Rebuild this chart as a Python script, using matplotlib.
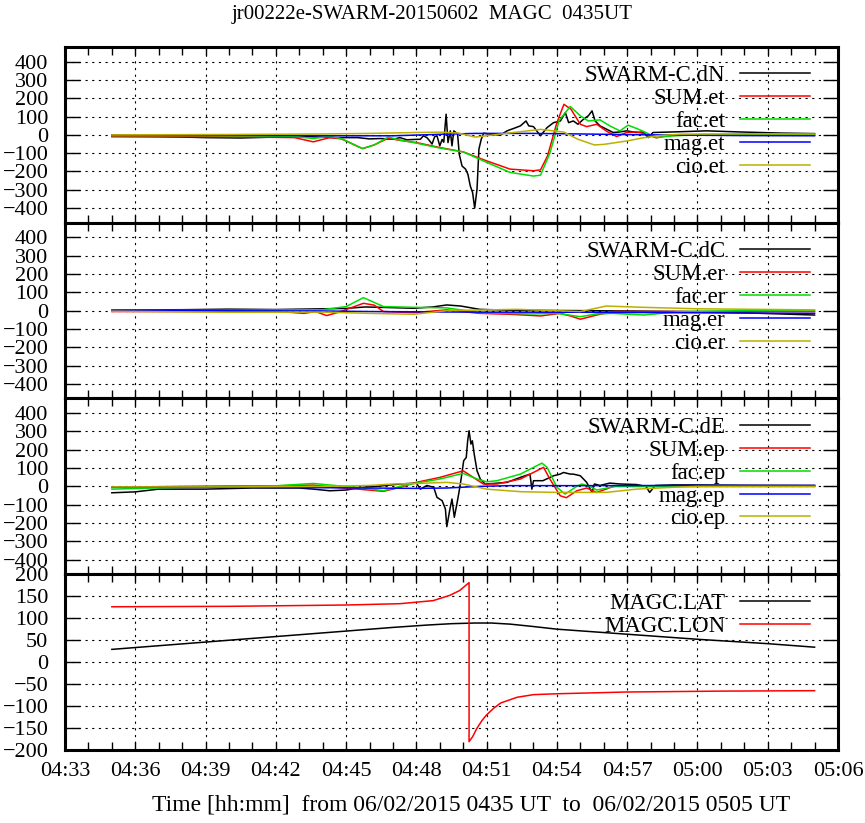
import matplotlib
matplotlib.use("Agg")
import matplotlib.pyplot as plt
from matplotlib.ticker import MultipleLocator, FuncFormatter

plt.rcParams['font.family'] = ['Liberation Serif', 'DejaVu Serif']

# ---------------- data (time in minutes after 04:00) ----------------
# Panel 1
dN_t = [35, 36, 37, 38, 39, 40.5, 42, 43.5, 44.5, 45.5, 46.0, 46.46, 47.0, 47.3, 47.6, 47.9, 48.17,
        48.3, 48.45, 48.55, 48.67, 48.78, 48.88, 49.0, 49.1, 49.17, 49.27, 49.35, 49.45, 49.52, 49.6,
        49.76, 49.83, 49.95, 50.1, 50.2, 50.3, 50.4, 50.49, 50.59, 50.67, 50.77, 50.87, 51.16, 51.58,
        51.87, 52.15, 52.44, 52.68, 52.8, 53.0, 53.3, 53.58, 53.86, 54.15, 54.36, 54.5, 54.7, 54.9,
        55.13, 55.34, 55.5, 55.63, 55.84, 56.12, 56.4, 56.69, 56.97, 57.4, 57.68, 57.9, 58.1, 58.95,
        60.4, 61.8, 63.5, 65]
dN_v = [-8, -9, -10, -12, -15, -17, -12, -10, -15, -15, -22, -20, -24, -15, -27, -25, -24,
        -5, -15, -30, -50, -10, -5, -60, -25, -40, 113, -42, 22, -60, 22,
        5, -105, -170, -187, -215, -278, -315, -400, -296, -78, -24, 9, 4, -2,
        22, 35, 49, 76, 49, 45, -5, 40, 67, 76, 122, 67, 76, 58,
        85, 104, 131, 76, 49, 31, 13, 16, 22, 13, 16, -15, 13, 16,
        22, 16, 10, 7]

SUMet_t = [35, 38, 41, 42.8, 43.6, 44.3, 44.8, 45.2, 45.7, 46.2, 46.8, 47.3, 48, 49, 50, 51, 52, 53,
           53.3, 53.6, 54.0, 54.3, 54.6, 55.0, 55.27, 55.7, 56.12, 56.55, 56.97, 57.4, 57.8, 58.24,
           58.67, 59.5, 62, 65]
SUMet_v = [-10, -10, -12, -15, -38, -15, -22, -45, -75, -55, -18, -30, -42, -69, -93, -142, -187, -196,
           -191, -115, 67, 167, 140, 58, 45, 58, 20, -9, 13, 16, 4, -16,
           -5, 0, 0, 0]

FACet_t = [35, 38, 41, 42.8, 43.6, 44.3, 44.8, 45.2, 45.7, 46.2, 46.8, 47.3, 48, 49, 50, 51, 52, 53,
           53.3, 53.7, 54.1, 54.57, 55.0, 55.34, 55.84, 56.26, 56.69, 57.04, 57.4, 57.8, 58.24, 58.95,
           60, 65]
FACet_v = [-4, -4, -5, -8, -20, -8, -20, -45, -75, -55, -12, -28, -45, -72, -93, -150, -205, -225,
           -220, -100, 80, 155, 104, 76, 82, 49, 22, 53, 35, 13, -15, -5,
           0, 0]

MAGet_t = [35, 40, 45, 47, 49, 50.5, 53, 55, 58, 62, 65]
MAGet_v = [0, -2, -5, -5, 3, 8, 8, 5, 0, -4, -5]

CIOet_t = [35, 40, 44, 46, 48, 49, 49.8, 50.5, 51.0, 51.8, 52.5, 53.3, 54.3, 54.9, 55.6, 56.0, 57.0,
           57.6, 58.3, 59.3, 62, 65]
CIOet_v = [0, 2, 5, 8, 13, 15, 10, -12, -5, 8, 18, 30, 15, -24, -55, -52, -33,
           -18, -5, 4, 6, 5]

# Panel 2
dC_t = [35, 38, 40, 42, 44, 45, 45.8, 46.46, 47.9, 48.7, 49.3, 49.9, 50.7, 52, 55, 57, 59.3, 62, 65]
dC_v = [3, 5, 8, 6, 10, 12, 20, 18, 13, 20, 31, 25, 7, 2, 0, -2, -5, -12, -24]

SUMer_t = [35, 38, 42, 42.7, 43.2, 43.7, 44.17, 44.7, 45.2, 45.74, 46.2, 46.6, 47.9, 49.3, 50.7, 52,
           53.3, 54.15, 54.6, 55.0, 55.7, 56.4, 58, 65]
SUMer_v = [-5, -5, -5, -10, -15, -5, -27, -8, 15, 40, 30, -5, -11, 4, -15, -20,
           -29, -15, -30, -47, -24, -5, -5, -5]

FACer_t = [35, 40, 44, 45, 45.74, 46.6, 47.9, 49.3, 50.7, 52.9, 54.0, 55.0, 55.7, 56.4, 57.7, 59.3, 62, 65]
FACer_v = [0, 2, 5, 22, 71, 22, 18, 15, -11, -18, -15, -33, -18, -15, -24, -5, 0, 0]

MAGer_t = [35, 44, 46, 50, 55, 60, 65]
MAGer_v = [0, -2, -5, -8, -9, -12, -15]

CIOer_t = [35, 40, 44, 46, 47.9, 49.3, 52.3, 55.0, 56.1, 57.7, 60, 65]
CIOer_v = [-3, -9, -8, -15, -20, 0, 7, -5, 25, 18, 10, 4]

# Panel 3
dE_t = [35, 36, 37, 39, 41, 43, 43.6, 44.3, 45, 45.7, 46.46, 47.3, 48, 48.17, 48.45, 48.74, 48.88,
        49.1, 49.24, 49.3, 49.42, 49.52, 49.62, 49.73, 49.83, 49.92, 50.02, 50.13, 50.19, 50.25,
        50.33, 50.39, 50.47, 50.59, 50.73, 50.93, 51.3, 51.87, 52.44, 52.85, 52.93, 53.0, 53.4,
        53.86, 54.14, 54.28, 54.57, 54.7, 55.0, 55.27, 55.5, 55.6, 55.84, 56.26, 56.7, 57.4, 57.8,
        57.96, 58.2, 58.95, 60, 62, 65]
dE_v = [-35, -30, -15, -15, -9, -9, -15, -24, -20, -5, 2, 13, 18, -15, 5, -5, -60,
        -78, -124, -220, -133, -69, -169, -96, -24, 49, 140, 158, 249, 304,
        231, 249, 176, 85, 40, 13, 16, 22, 49, 67, -15, 31, 31,
        58, 67, 76, 67, 67, 58, 22, -33, 13, 5, 18, 13, 10, 0,
        -33, 5, 8, 8, 6, 5]

SUMep_t = [35, 38, 40, 42, 43.6, 44.5, 45.5, 46.6, 47.3, 48, 49.0, 50.0, 50.43, 50.86, 51.44, 52.44,
           53.43, 53.7, 54.14, 54.4, 54.85, 55.27, 55.7, 56.1, 56.4, 60, 65]
SUMep_v = [-5, 0, 2, 3, 7, -5, -15, -27, -5, 22, 49, 85, 49, 13, 13, 40,
           104, 40, -51, -62, -24, -9, -33, -15, 0, 0, 0]

FACep_t = [35, 38, 40, 42, 43.6, 44.5, 45.5, 46.6, 47.3, 48, 49.0, 50.0, 50.6, 51.0, 51.44, 52.44,
           53.36, 53.58, 54.0, 54.35, 54.85, 55.06, 55.4, 55.7, 56.1, 56.5, 65]
FACep_v = [-15, -5, 0, 3, 16, 5, -5, -24, 0, 18, 40, 71, 40, 25, 31, 67,
           127, 104, -5, -42, 0, 13, 0, -20, -10, 0, 0]

MAGep_t = [35, 40, 45, 48, 49.3, 50.7, 52, 55, 60, 65]
MAGep_v = [-5, -5, -8, -11, -9, 0, 4, 4, 5, 5]

CIOep_t = [35, 40, 44, 46, 47, 48, 49.3, 50.0, 51.0, 52.44, 54.0, 55.0, 56.1, 57.4, 58.95, 60, 65]
CIOep_v = [-3, -3, 0, 5, 13, 16, 22, 13, -15, -29, -33, -33, -33, -15, -5, 0, 0]

# Panel 4
LAT_t = [35, 38, 41, 44, 47, 48.5, 49.5, 50.5, 51.2, 52, 53, 54, 57, 60, 63, 65]
LAT_v = [29, 41.5, 54, 66.5, 79, 84.5, 87.5, 89, 89, 86.5, 81, 75, 63.5, 52, 42, 34]

LON_t = [35, 40, 45, 47.3, 48.72, 49.43, 49.85, 50.25, 50.25, 50.4, 50.58, 50.8, 51.0, 51.3, 51.6,
         52.3, 53.0, 54.0, 57.0, 61, 65]
LON_v = [126, 127, 130, 133, 140, 152, 163, 181, -181, -170, -151, -133, -120, -105, -93,
         -80, -74, -72, -68, -66, -65]

labels1 = ['SWARM-C.dN', 'SUM.et', 'fac.et', 'mag.et', 'cio.et']
labels2 = ['SWARM-C.dC', 'SUM.er', 'fac.er', 'mag.er', 'cio.er']
labels3 = ['SWARM-C.dE', 'SUM.ep', 'fac.ep', 'mag.ep', 'cio.ep']
labels4 = ['MAGC.LAT', 'MAGC.LON']

title = 'jr00222e-SWARM-20150602  MAGC  0435UT'
xlabel = 'Time [hh:mm]  from 06/02/2015 0435 UT  to  06/02/2015 0505 UT'

colors = ['black', '#ff0000', '#00dd00', '#0000ff', '#bbb000']

# ---------------- figure ----------------
fig = plt.figure(figsize=(8.65, 8.23), dpi=100)
L, R, T, B = 65 / 865, 838 / 865, 1 - 47 / 823, 1 - 750 / 823
gs = fig.add_gridspec(4, 1, left=L, right=R, top=T, bottom=B, hspace=0)
axes = [fig.add_subplot(gs[i]) for i in range(4)]

panels = [
    ([(dN_t, dN_v), (SUMet_t, SUMet_v), (FACet_t, FACet_v), (MAGet_t, MAGet_v), (CIOet_t, CIOet_v)], labels1),
    ([(dC_t, dC_v), (SUMer_t, SUMer_v), (FACer_t, FACer_v), (MAGer_t, MAGer_v), (CIOer_t, CIOer_v)], labels2),
    ([(dE_t, dE_v), (SUMep_t, SUMep_v), (FACep_t, FACep_v), (MAGep_t, MAGep_v), (CIOep_t, CIOep_v)], labels3),
    ([(LAT_t, LAT_v), (LON_t, LON_v)], labels4),
]

fs = 16
lfs = 16.5


def fmt_time(x, pos):
    h = int(x // 60) + 4
    m = int(round(x % 60))
    return f"{h:02d}:{m:02d}"


for i, (ax, (series, labels)) in enumerate(zip(axes, panels)):
    for (t, v), lab, c in zip(series, labels, colors):
        ax.plot(t, v, color=c, lw=1.1, label=lab)
    ax.set_xlim(33, 66)
    if i < 3:
        ax.set_ylim(-480, 480)
        ax.set_yticks(range(-400, 401, 100))
    else:
        ax.set_ylim(-200, 200)
        ax.set_yticks(range(-200, 201, 50))
    ax.xaxis.set_major_locator(MultipleLocator(3))
    ax.xaxis.set_minor_locator(MultipleLocator(1))
    ax.xaxis.set_major_formatter(FuncFormatter(fmt_time))
    ax.tick_params(axis='x', which='both', direction='in', top=True, bottom=True,
                   length=6, width=1.0, labelsize=fs, pad=9)
    ax.tick_params(axis='y', which='major', direction='in', left=True, right=True,
                   length=11, width=1.0, labelsize=fs, pad=12)
    if i < 3:
        ax.tick_params(axis='x', labelbottom=False)
    ax.grid(True, which='major', color='black', lw=0.8, ls=(0, (2, 4)))
    for sp in ax.spines.values():
        sp.set_linewidth(2.2)
    ax.legend(loc='upper right', bbox_to_anchor=(0.964, 0.895), frameon=False, markerfirst=False,
              fontsize=lfs, handlelength=3.05, handletextpad=0.65, labelspacing=0.08,
              borderaxespad=0, borderpad=0)

fig.text(0.5, 1 - 15 / 823, title, ha='center', va='center', fontsize=15)
fig.text(471 / 865, 1 - 805 / 823, xlabel, ha='center', va='center', fontsize=17)

fig.savefig('out.png', dpi=100)
